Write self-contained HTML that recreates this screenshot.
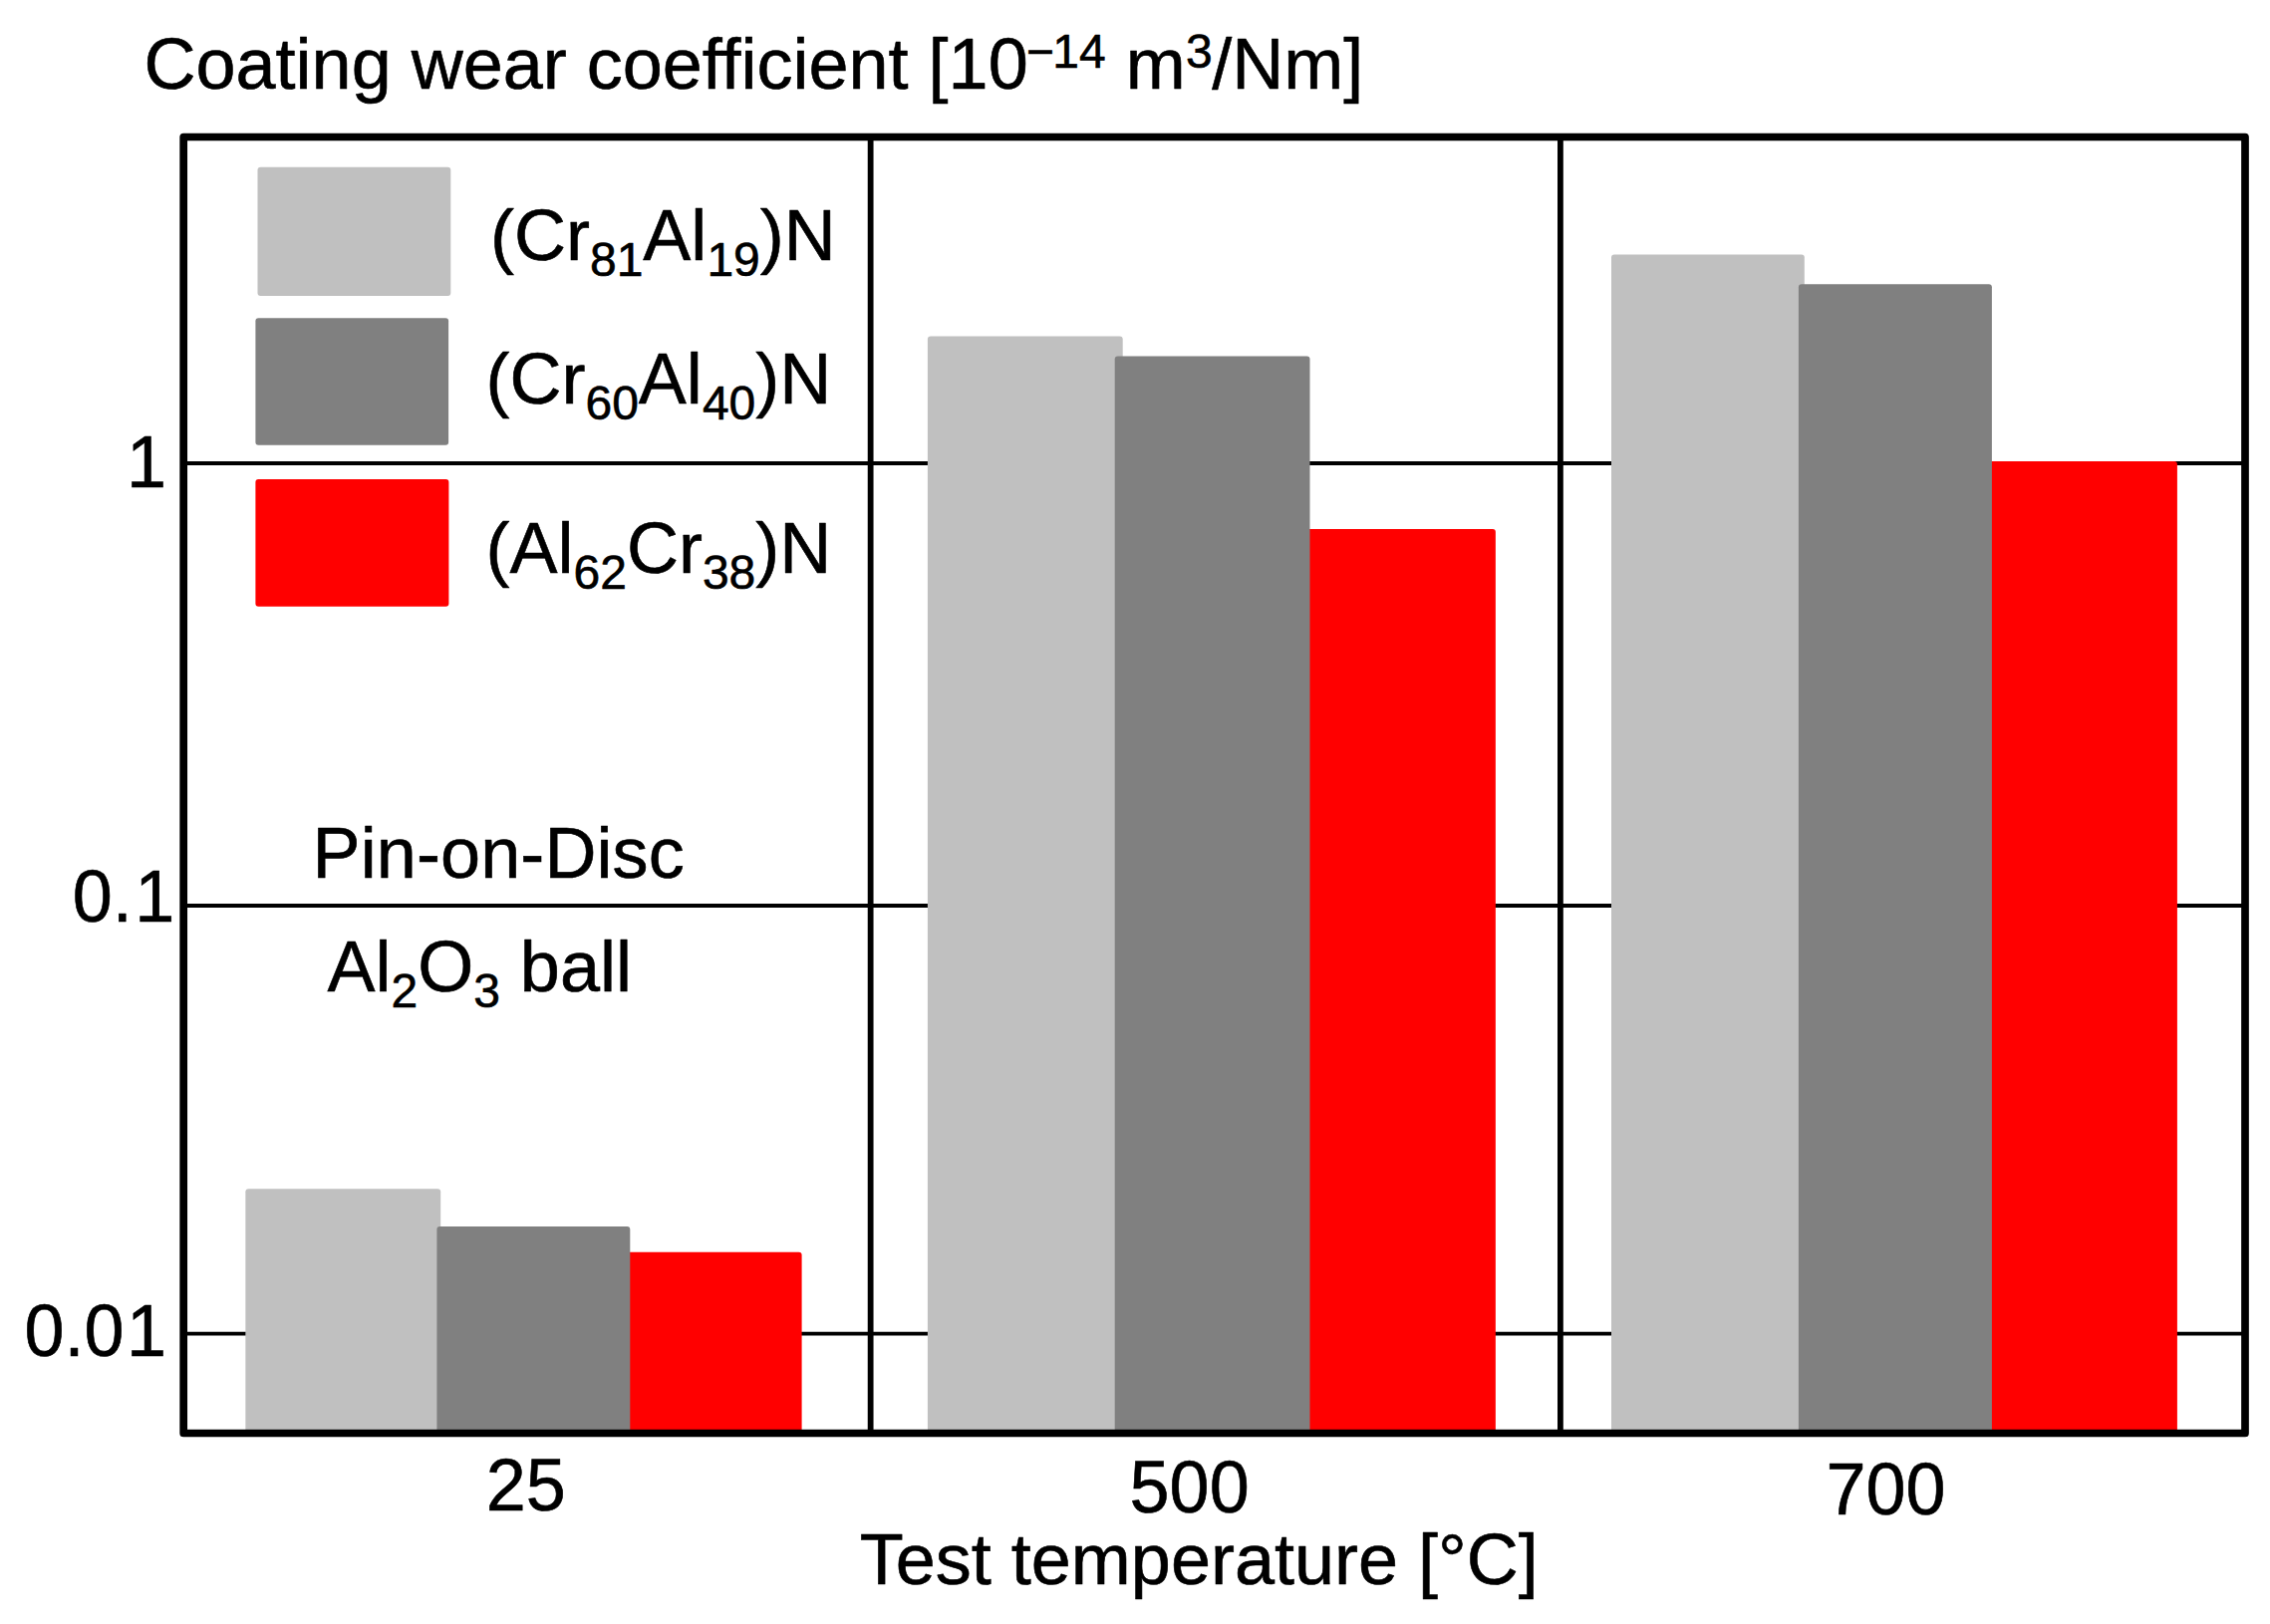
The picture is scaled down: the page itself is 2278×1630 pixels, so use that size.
<!DOCTYPE html>
<html lang="en">
<head>
<meta charset="utf-8">
<title>Coating wear coefficient</title>
<style>
html,body{margin:0;padding:0;background:#fff;}
body{width:2278px;height:1630px;overflow:hidden;}
svg{display:block;}
text{font-family:"Liberation Sans",sans-serif;font-size:72px;fill:#000;stroke:#000;stroke-width:0.6px;stroke-linejoin:round;}
.sub{font-size:48px;stroke-width:0.6px;}
</style>
</head>
<body>
<svg width="2278" height="1630" viewBox="0 0 2278 1630">
<rect x="0" y="0" width="2278" height="1630" fill="#ffffff"/>
<!-- gridlines -->
<g stroke="#000" stroke-width="3.9" fill="none">
<line x1="184" y1="465" x2="2253" y2="465"/>
<line x1="184" y1="909" x2="2253" y2="909"/>
<line x1="184" y1="1338.6" x2="2253" y2="1338.6"/>
</g>
<!-- bars -->
<g id="bars">
<rect x="246.35" y="1193.3" width="195.85" height="245.2" rx="3" fill="#c0c0c0"/>
<rect x="628" y="1256.7" width="176.6" height="181.8" rx="3" fill="#ff0000"/>
<rect x="438.4" y="1231.1" width="193.9" height="207.4" rx="3" fill="#808080"/>

<rect x="930.9" y="337.4" width="195.8" height="1101.1" rx="3" fill="#c0c0c0"/>
<rect x="1310" y="531.0" width="190.85" height="907.5" rx="3" fill="#ff0000"/>
<rect x="1118.7" y="357.4" width="195.8" height="1081.1" rx="3" fill="#808080"/>

<rect x="1617" y="255.5" width="193.8" height="1183.0" rx="3" fill="#c0c0c0"/>
<rect x="1994" y="462.9" width="190.9" height="975.6" rx="3" fill="#ff0000"/>
<rect x="1804.9" y="285.25" width="194" height="1153.25" rx="3" fill="#808080"/>
</g>
<!-- legend swatches -->
<rect x="258.5" y="167.7" width="193.8" height="129.3" rx="3" fill="#c0c0c0"/>
<rect x="256.4" y="319.3" width="193.7" height="127.4" rx="3" fill="#808080"/>
<rect x="256.4" y="481.1" width="194" height="127.7" rx="3" fill="#ff0000"/>
<!-- dividers -->
<g stroke="#000" stroke-width="5.8">
<line x1="873.65" y1="137.5" x2="873.65" y2="1438.5"/>
<line x1="1565.9" y1="137.5" x2="1565.9" y2="1438.5"/>
</g>
<!-- frame -->
<rect x="184.2" y="137.5" width="2068.8" height="1301" fill="none" stroke="#000" stroke-width="7.7" stroke-linejoin="round"/>
<!-- text -->
<text x="144.5" y="89.3">Coating wear coefficient [10<tspan class="sub" dy="-21.8" dx="-2">−</tspan><tspan class="sub" dx="-1.5">14</tspan><tspan dy="21.8"> m</tspan><tspan class="sub" dy="-21.8" dx="0.4">3</tspan><tspan dy="21.8" dx="-0.5">/Nm]</tspan></text>
<text x="492" y="261">(Cr<tspan class="sub" dy="16">81</tspan><tspan dy="-16">Al</tspan><tspan class="sub" dy="16">19</tspan><tspan dy="-16">)N</tspan></text>
<text x="487.5" y="405">(Cr<tspan class="sub" dy="16">60</tspan><tspan dy="-16">Al</tspan><tspan class="sub" dy="16">40</tspan><tspan dy="-16">)N</tspan></text>
<text x="487.5" y="575">(Al<tspan class="sub" dy="16">62</tspan><tspan dy="-16">Cr</tspan><tspan class="sub" dy="16">38</tspan><tspan dy="-16">)N</tspan></text>
<text x="313.6" y="881" letter-spacing="0.1">Pin-on-Disc</text>
<text x="328.4" y="994.6">Al<tspan class="sub" dy="16">2</tspan><tspan dy="-16">O</tspan><tspan class="sub" dy="16">3</tspan><tspan dy="-16"> ball</tspan></text>
<g id="ticks">
<text transform="translate(127.06,488.8) scale(1,1.0405)">1</text>
<text transform="translate(72.75,924.5) scale(1,1.0405)">0.<tspan dx="2.5">1</tspan></text>
<text transform="translate(24.5,1360.5) scale(1,1.0405)">0.0<tspan dx="2.5">1</tspan></text>
<text transform="translate(527.8,1516.4) scale(1,1.0405)" text-anchor="middle">25</text>
<text transform="translate(1193.65,1517.7) scale(1,1.0405)" text-anchor="middle">500</text>
<text transform="translate(1892.6,1520.2) scale(1,1.0405)" text-anchor="middle">700</text>
</g>
<text x="1203.3" y="1590.1" text-anchor="middle">Test temperature [°C]</text>
</svg>
</body>
</html>
